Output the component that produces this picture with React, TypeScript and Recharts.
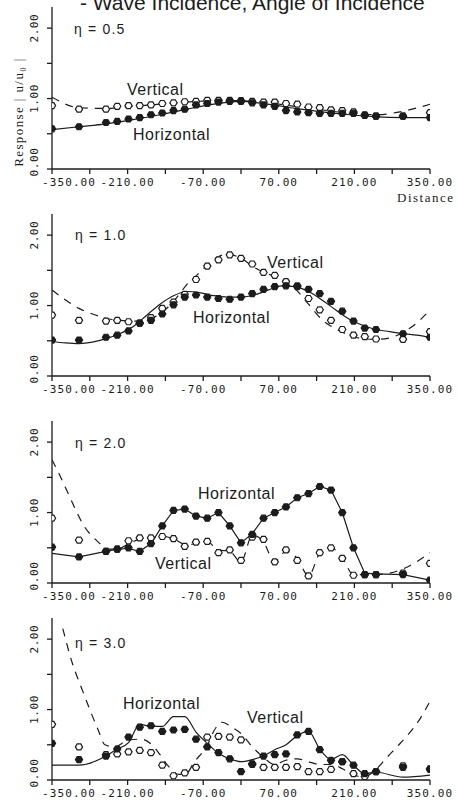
import React from 'react';
import { ComposedChart, Line, Scatter, XAxis, YAxis } from 'recharts';

// receiver sites (distance) where the numerical results are plotted
const sites = [
  -350, -300, -250, -229.2, -208.3, -187.5, -166.7, -145.8, -125, -104.2, -83.3, -62.5, -41.7, -20.8, 0,
  20.8, 41.7, 62.5, 83.3, 104.2, 125, 145.8, 166.7, 187.5, 208.3, 229.2, 250, 300, 350,
];

const xTicks = [-350, -280, -210, -140, -70, 0, 70, 140, 210, 280, 350];
const xLabels = [-350, -210, -70, 70, 210, 350];
const yTicks = [0, 0.5, 1, 1.5, 2];
const yLabels = [0, 1, 2];

// eta = 0.5
const h05 = [0.57, 0.6, 0.66, 0.675, 0.71, 0.73, 0.77, 0.795, 0.83, 0.85, 0.91, 0.93, 0.95, 0.96, 0.96, 0.94, 0.91, 0.89, 0.83, 0.81, 0.8, 0.79, 0.79, 0.79, 0.79, 0.76, 0.75, 0.75, 0.73];
const v05 = [0.9, 0.85, 0.85, 0.89, 0.9, 0.9, 0.91, 0.93, 0.94, 0.955, 0.96, 0.975, 0.975, 0.975, 0.97, 0.96, 0.95, 0.95, 0.93, 0.92, 0.88, 0.87, 0.84, 0.83, 0.81, 0.77, 0.75, 0.75, 0.8];
const x05Line = [-350, -300, -250, -200, -150, -100, -50, 0, 50, 100, 150, 200, 250, 300, 350];
const h05Line = [0.56, 0.6, 0.64, 0.7, 0.77, 0.85, 0.92, 0.96, 0.92, 0.86, 0.81, 0.77, 0.74, 0.73, 0.73];
const v05Line = [1.02, 0.87, 0.86, 0.89, 0.92, 0.95, 0.97, 0.97, 0.94, 0.89, 0.84, 0.79, 0.77, 0.82, 0.92];

// eta = 1.0
const h10 = [0.51, 0.51, 0.55, 0.58, 0.64, 0.75, 0.79, 0.88, 1.01, 1.12, 1.15, 1.12, 1.1, 1.09, 1.12, 1.17, 1.23, 1.27, 1.28, 1.27, 1.23, 1.17, 1.06, 0.92, 0.78, 0.68, 0.66, 0.6, 0.55];
const v10 = [0.865, 0.79, 0.78, 0.79, 0.77, 0.75, 0.83, 0.96, 1.05, 1.16, 1.37, 1.56, 1.65, 1.72, 1.67, 1.59, 1.47, 1.43, 1.34, 1.28, 1.1, 0.94, 0.79, 0.66, 0.58, 0.56, 0.525, 0.52, 0.63];
const x10Line = [-350, -325, -300, -275, -250, -225, -200, -175, -150, -125, -100, -75, -50, -25, 0, 25, 50, 75, 100, 125, 150, 175, 200, 225, 250, 275, 300, 325, 350];
const h10Line = [0.49, 0.47, 0.46, 0.48, 0.53, 0.6, 0.7, 0.86, 1.02, 1.14, 1.2, 1.18, 1.14, 1.12, 1.12, 1.15, 1.22, 1.28, 1.27, 1.2, 1.08, 0.94, 0.81, 0.72, 0.66, 0.63, 0.6, 0.58, 0.55];
const v10Line = [1.22, 1.08, 0.96, 0.88, 0.82, 0.79, 0.78, 0.8, 0.88, 1.06, 1.3, 1.48, 1.66, 1.73, 1.67, 1.54, 1.45, 1.37, 1.24, 1.02, 0.8, 0.67, 0.58, 0.53, 0.52, 0.54, 0.62, 0.75, 0.94];

// eta = 2.0
const h20 = [0.51, 0.37, 0.45, 0.48, 0.5, 0.45, 0.56, 0.81, 1.03, 1.05, 0.95, 0.92, 1.0, 0.81, 0.57, 0.69, 0.92, 1.0, 1.08, 1.21, 1.27, 1.37, 1.32, 1.0, 0.5, 0.12, 0.12, 0.12, 0.04];
const v20 = [0.92, 0.61, 0.45, 0.48, 0.6, 0.64, 0.64, 0.66, 0.63, 0.52, 0.58, 0.59, 0.43, 0.47, 0.32, 0.65, 0.62, 0.3, 0.47, 0.32, 0.1, 0.43, 0.5, 0.35, 0.11, 0.12, 0.12, 0.14, 0.28];
const h20Line = [0.42, 0.37, 0.45, 0.48, 0.49, 0.45, 0.56, 0.81, 1.03, 1.05, 0.95, 0.92, 1.0, 0.81, 0.57, 0.7, 0.92, 1.0, 1.08, 1.21, 1.27, 1.37, 1.32, 1.0, 0.5, 0.14, 0.13, 0.12, 0.04];
const x20Dash = [-350, -335, -320, -305, -290, -275, -260, -250, -229, -208, -188, -167, -146, -125, -104, -83, -62, -42, -21, 0, 21, 42, 62, 83, 104, 125, 146, 167, 188, 208, 229, 250, 275, 300, 325, 350];
const v20Line = [1.75, 1.52, 1.27, 1.02, 0.8, 0.66, 0.55, 0.48, 0.48, 0.56, 0.62, 0.64, 0.66, 0.63, 0.55, 0.55, 0.58, 0.47, 0.45, 0.3, 0.68, 0.58, 0.3, 0.45, 0.35, 0.1, 0.42, 0.5, 0.35, 0.12, 0.12, 0.12, 0.14, 0.2, 0.3, 0.43];

// eta = 3.0
const h30 = [0.52, 0.29, 0.34, 0.44, 0.61, 0.75, 0.77, 0.69, 0.71, 0.72, 0.58, 0.47, 0.39, 0.3, 0.12, 0.23, 0.34, 0.36, 0.37, 0.64, 0.69, 0.43, 0.28, 0.26, 0.21, 0.09, 0.12, 0.18, 0.15];
const v30 = [0.79, 0.47, 0.36, 0.37, 0.4, 0.42, 0.39, 0.21, 0.06, 0.1, 0.18, 0.61, 0.62, 0.61, 0.57, 0.22, 0.18, 0.18, 0.18, 0.19, 0.12, 0.12, 0.15, 0.26, 0.09, 0.05, 0.12, 0.2, 0.16];
const h30Line = [0.21, 0.21, 0.34, 0.44, 0.53, 0.79, 0.76, 0.76, 0.9, 0.9, 0.68, 0.52, 0.38, 0.3, 0.26, 0.29, 0.34, 0.43, 0.5, 0.63, 0.69, 0.44, 0.29, 0.36, 0.21, 0.09, 0.11, 0.04, 0.07];
const x30Dash = [-330, -312, -295, -280, -265, -252, -235, -210, -185, -165, -150, -135, -115, -100, -88, -62, -50, -35, -15, 0, 21, 42, 62, 83, 104, 125, 146, 167, 188, 210, 229, 250, 270, 290, 310, 330, 350];
const v30Line = [2.15, 1.65, 1.3, 1.0, 0.72, 0.5, 0.47, 0.56, 0.58, 0.5, 0.36, 0.2, 0.08, 0.1, 0.24, 0.5, 0.7, 0.82, 0.74, 0.66, 0.47, 0.32, 0.22, 0.28, 0.3, 0.26, 0.22, 0.22, 0.16, 0.06, 0.05, 0.15, 0.32, 0.48, 0.65, 0.85, 1.12];

const INK = '#1c1c1c';
const zip = (xs: number[], ys: number[]) => xs.map((x, i) => ({ x, y: ys[i] }));

const XTick = (props: any) => {
  const { x, y, payload } = props;
  if (!xLabels.includes(payload.value)) return null;
  // the first label is pushed right so it clears the y labels
  const first = payload.value === xLabels[0];
  return (
    <text x={first ? x - 10 : x} y={y + 10} textAnchor={first ? 'start' : 'middle'} fill={INK} fontSize={11}
      fontFamily="'DejaVu Sans Mono', monospace" letterSpacing={1.1}>
      {payload.value.toFixed(2)}
    </text>
  );
};

const YTick = (props: any) => {
  const { x, y, payload } = props;
  if (!yLabels.includes(payload.value)) return null;
  const cy = payload.value === 0 ? y - 7 : y;
  return (
    <text x={x - 7} y={cy} transform={`rotate(-90, ${x - 7}, ${cy})`} textAnchor="middle" fill={INK}
      fontSize={11} fontFamily="'DejaVu Sans Mono', monospace" letterSpacing={0.6}>
      {payload.value.toFixed(2)}
    </text>
  );
};

const marker = (filled: boolean) => (p: any) => {
  const { cx, cy } = p;
  if (cx == null || cy == null) return <g />;
  const d = `M${cx - 3.6},${cy} L${cx - 1.8},${cy - 3} L${cx + 1.8},${cy - 3} L${cx + 3.6},${cy} L${cx + 1.8},${cy + 3} L${cx - 1.8},${cy + 3} Z`;
  return <path d={d} fill={filled ? INK : '#fff'} stroke={INK} strokeWidth={1.2} />;
};

type PanelProps = {
  top: number;
  h: { x: number; y: number }[];
  v: { x: number; y: number }[];
  hLine: { x: number; y: number }[];
  vLine: { x: number; y: number }[];
  hCurve: 'monotone' | 'linear';
};

const Panel = ({ top, h, v, hLine, vLine, hCurve }: PanelProps) => (
  <div style={{ position: 'absolute', left: 0, top, width: 458, height: 205 }}>
    <ComposedChart width={458} height={205} margin={{ top: 10, right: 28, bottom: 0, left: 0 }}>
      <XAxis type="number" dataKey="x" domain={[-350, 350]} ticks={xTicks} tick={<XTick />}
        interval={0} height={33} stroke={INK} strokeWidth={1.3} tickSize={5} allowDataOverflow />
      <YAxis type="number" dataKey="y" domain={[0, 2.3]} ticks={yTicks} tick={<YTick />}
        interval={0} width={52} stroke={INK} strokeWidth={1.3} tickSize={5} allowDataOverflow />
      <Line data={vLine} dataKey="y" type="monotone" stroke={INK} strokeWidth={1.2}
        strokeDasharray="8 7" dot={false} isAnimationActive={false} />
      <Line data={hLine} dataKey="y" type={hCurve} stroke={INK} strokeWidth={1.2}
        dot={false} isAnimationActive={false} />
      <Scatter data={v} dataKey="y" shape={marker(false)} isAnimationActive={false} />
      <Scatter data={h} dataKey="y" shape={marker(true)} isAnimationActive={false} />
    </ComposedChart>
  </div>
);

const sans = "'Liberation Sans', Arial, sans-serif";
const serif = "'Liberation Serif', 'Times New Roman', serif";

const Note = ({ x, y, children, size = 16, ls = 0.5 }: any) => (
  <text x={x} y={y} fontFamily={sans} fontSize={size} letterSpacing={ls} fill={INK}>{children}</text>
);

export default function App() {
  return (
    <div style={{ position: 'absolute', left: 0, top: 0, width: 458, height: 806, overflow: 'hidden', background: '#fff' }}>
      <Panel top={-3} h={zip(sites, h05)} v={zip(sites, v05)} hLine={zip(x05Line, h05Line)} vLine={zip(x05Line, v05Line)} hCurve="monotone" />
      <Panel top={204} h={zip(sites, h10)} v={zip(sites, v10)} hLine={zip(x10Line, h10Line)} vLine={zip(x10Line, v10Line)} hCurve="monotone" />
      <Panel top={411} h={zip(sites, h20)} v={zip(sites, v20)} hLine={zip(sites, h20Line)} vLine={zip(x20Dash, v20Line)} hCurve="linear" />
      <Panel top={608} h={zip(sites, h30)} v={zip(sites, v30)} hLine={zip(sites, h30Line)} vLine={zip(x30Dash, v30Line)} hCurve="monotone" />
      <svg width={458} height={806} style={{ position: 'absolute', left: 0, top: 0, pointerEvents: 'none' }}>
        <text x={80} y={10} fontFamily={sans} fontSize={21} fill={INK}>- Wave Incidence, Angle of Incidence</text>
        <text x={23} y={112} transform="rotate(-90, 23, 112)" textAnchor="middle" fontFamily={serif}
          fontSize={13} letterSpacing={1.4} fill={INK}>Response | u/u₀ |</text>
        <text x={397} y={202} fontFamily={serif} fontSize={13} letterSpacing={1.5} fill={INK}>Distance</text>

        <Note x={74} y={34} size={14} ls={1.2}>η = 0.5</Note>
        <Note x={127} y={95}>Vertical</Note>
        <Note x={133} y={140}>Horizontal</Note>

        <Note x={75} y={240} size={14} ls={1.2}>η = 1.0</Note>
        <Note x={267} y={268}>Vertical</Note>
        <Note x={193} y={323}>Horizontal</Note>

        <Note x={75} y={448} size={14} ls={1.2}>η = 2.0</Note>
        <Note x={198} y={499}>Horizontal</Note>
        <Note x={155} y={569}>Vertical</Note>

        <Note x={75} y={648} size={14} ls={1.2}>η = 3.0</Note>
        <Note x={123} y={709}>Horizontal</Note>
        <Note x={247} y={723}>Vertical</Note>
      </svg>
    </div>
  );
}
